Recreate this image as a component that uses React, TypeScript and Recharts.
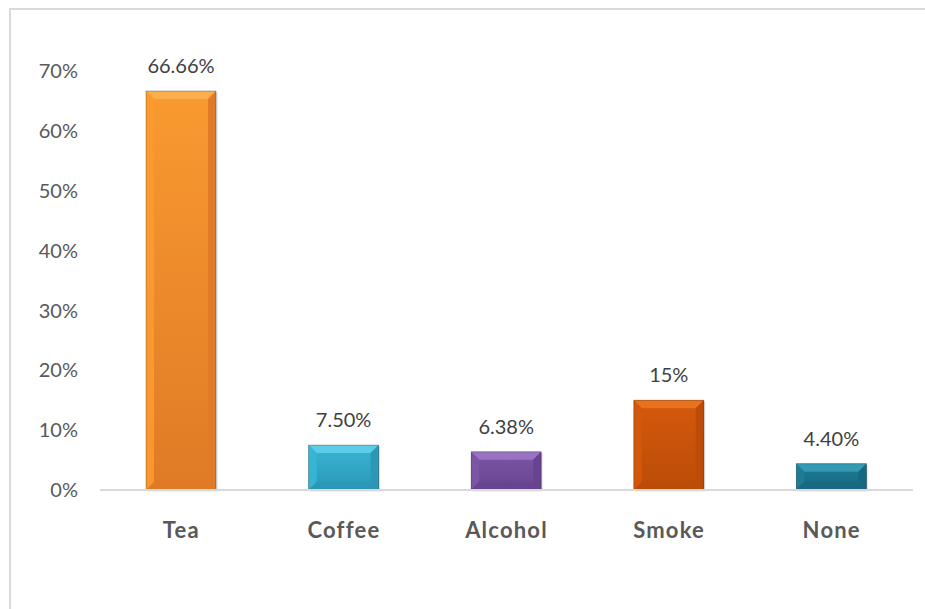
import React from 'react';
import { BarChart, Bar, XAxis, YAxis, CartesianGrid, LabelList, Cell } from 'recharts';

const categories = ['Tea', 'Coffee', 'Alcohol', 'Smoke', 'None'];
const values = [0.6666, 0.075, 0.0638, 0.15, 0.044];
const valueLabels = ['66.66%', '7.50%', '6.38%', '15%', '4.40%'];
const yTicks = [0, 0.1, 0.2, 0.3, 0.4, 0.5, 0.6, 0.7];
const palette = [
  { top: '#FCAE4A', mid: '#F99A30', bot: '#E07A26' },
  { top: '#5CCDE6', mid: '#3AB6D5', bot: '#2A98B6' },
  { top: '#9A74C4', mid: '#7C56A5', bot: '#684490' },
  { top: '#E8721E', mid: '#D4590B', bot: '#BC4C08' },
  { top: '#3399B4', mid: '#1F7C96', bot: '#176880' },
];

const data = categories.map((c, i) => ({ name: c, value: values[i], label: valueLabels[i] }));

const FONT = 'Lato, "Open Sans", sans-serif';

const BevelBar = (props: any) => {
  const { x, y, width, height, index } = props;
  if (height <= 0) return null;
  const p = palette[index];
  const b = Math.min(8, height / 3);
  const gid = `g${index}`;
  return (
    <g>
      <defs>
        <linearGradient id={gid} x1="0" y1="0" x2="0" y2="1">
          <stop offset="0%" stopColor={p.mid} />
          <stop offset="100%" stopColor={p.bot} />
        </linearGradient>
      </defs>
      <rect x={x + 1.5} y={y + 1.5} width={width} height={height} fill="#000" opacity={0.12} />
      <rect x={x} y={y} width={width} height={height} fill={`url(#${gid})`} />
      <polygon points={`${x},${y} ${x + width},${y} ${x + width - b},${y + b} ${x + b},${y + b}`} fill={p.top} />
      <polygon points={`${x},${y} ${x + b},${y + b} ${x + b},${y + height - b} ${x},${y + height}`} fill={p.mid} opacity={0.9} />
      <polygon points={`${x + width},${y} ${x + width},${y + height} ${x + width - b},${y + height - b} ${x + width - b},${y + b}`} fill={p.bot} />
      <polygon points={`${x},${y + height} ${x + b},${y + height - b} ${x + width - b},${y + height - b} ${x + width},${y + height}`} fill={p.bot} opacity={0.9} />
      <rect x={x} y={y} width={width} height={height} fill="none" stroke="#000" strokeOpacity={0.25} strokeWidth={1} />
    </g>
  );
};

export default function App() {
  return (
    <div style={{ position: 'absolute', left: 0, top: 0, width: 925, height: 609, background: '#fff', overflow: 'hidden' }}>
      <div style={{ position: 'absolute', left: 9, top: 8, width: 930, height: 620, borderLeft: '2px solid #D9D9D9', borderTop: '2px solid #D9D9D9' }} />
      <div style={{ position: 'absolute', left: 0, top: 0 }}>
        <BarChart
          width={925}
          height={609}
          data={data}
          margin={{ top: 71, right: 12, bottom: 0, left: 0 }}
          barSize={70}
        >
          <CartesianGrid horizontal={false} vertical={false} />
          <XAxis
            dataKey="name"
            axisLine={{ stroke: '#D9D9D9', strokeWidth: 2 }}
            tickLine={false}
            tickMargin={26}
            height={119}
            tick={{ fill: '#595959', fontSize: 22, fontWeight: 700, fontFamily: FONT, letterSpacing: 1.2 }}
            interval={0}
          />
          <YAxis
            width={100}
            domain={[0, 0.7]}
            ticks={yTicks}
            axisLine={false}
            tickLine={false}
            tickMargin={16}
            tickFormatter={(v: number) => `${Math.round(v * 100)}%`}
            tick={{ fill: '#595959', fontSize: 20, fontFamily: FONT }}
          />
          <Bar dataKey="value" shape={BevelBar} isAnimationActive={false}>
            {data.map((d, i) => (
              <Cell key={d.name} fill={palette[i].mid} />
            ))}
            <LabelList dataKey="label" position="top" offset={18} fill="#404040" fontSize={20} fontFamily={FONT} />
          </Bar>
        </BarChart>
      </div>
    </div>
  );
}
